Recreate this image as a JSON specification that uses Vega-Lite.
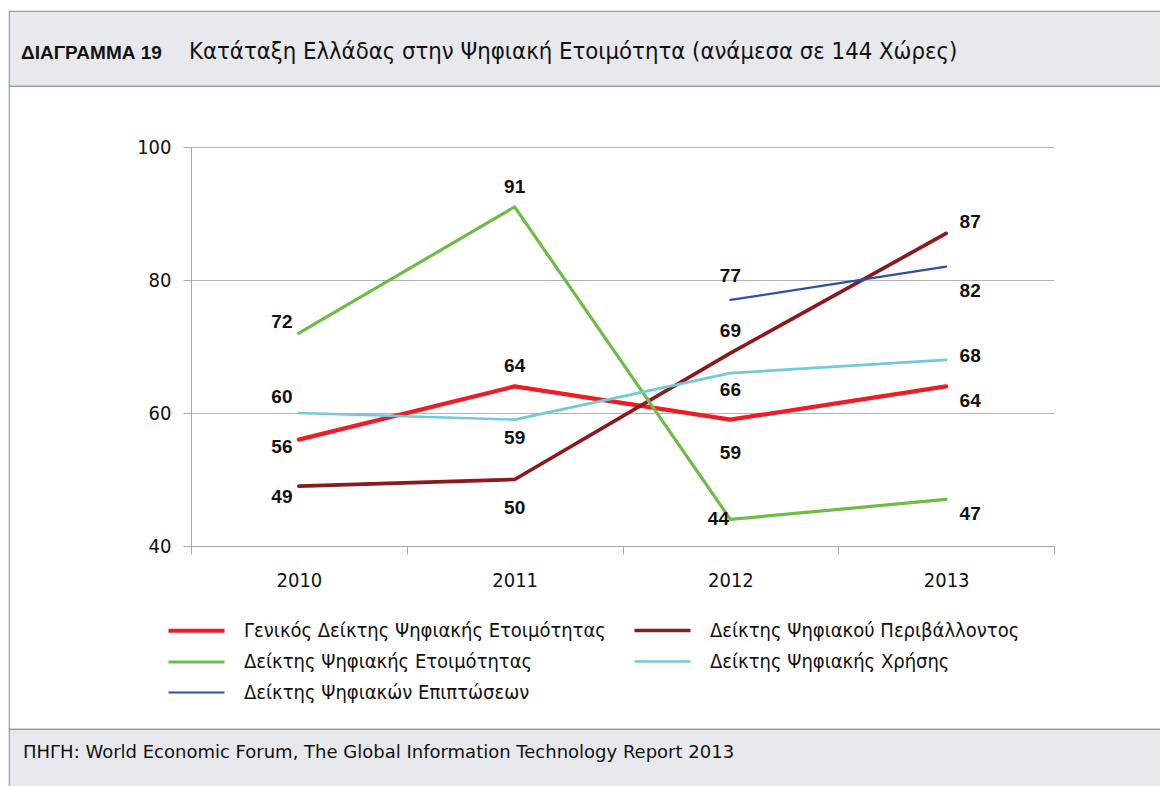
{
  "$schema": "https://vega.github.io/schema/vega-lite/v6.json",
  "padding": {"left": 8, "top": 10, "right": 0, "bottom": 0},
  "background": "white",
  "bounds": "flush",
  "spacing": 0,
  "config": {
    "view": {"stroke": "#8e9bb5"},
    "font": "DejaVu Sans Condensed"
  },
  "vconcat": [
    {
      "width": 1152,
      "height": 75,
      "view": {"fill": "#e8e9ed", "stroke": "#8e9bb5", "strokeWidth": 1.2},
      "data": {"values": [{"part": "ΔΙΑΓΡΑΜΜΑ 19"}, {"part": "Κατάταξη Ελλάδας στην Ψηφιακή Ετοιμότητα (ανάμεσα σε 144 Χώρες)"}]},
      "encoding": {
        "x": {
          "field": "part",
          "type": "nominal",
          "scale": {"type": "point", "domain": ["ΔΙΑΓΡΑΜΜΑ 19", "Κατάταξη Ελλάδας στην Ψηφιακή Ετοιμότητα (ανάμεσα σε 144 Χώρες)"], "range": [12, 180], "padding": 0},
          "axis": null
        },
        "text": {"field": "part"}
      },
      "layer": [
        {
          "transform": [{"filter": "datum.part === 'ΔΙΑΓΡΑΜΜΑ 19'"}],
          "mark": {"type": "text", "align": "left", "baseline": "alphabetic", "dy": 10, "font": "Liberation Sans", "fontWeight": "bold", "fontSize": 19, "color": "#111111"}
        },
        {
          "transform": [{"filter": "datum.part !== 'ΔΙΑΓΡΑΜΜΑ 19'"}],
          "mark": {"type": "text", "align": "left", "baseline": "alphabetic", "dy": 10, "font": "DejaVu Sans Condensed", "fontSize": 23.7, "color": "#111111"}
        }
      ]
    },
    {
      "width": 1152,
      "height": 643,
      "view": {"fill": "white", "stroke": "#8e9bb5", "strokeWidth": 1.2},
      "data": {
        "values": [
          {"series": "Γενικός Δείκτης Ψηφιακής Ετοιμότητας", "year": "2010", "value": 56},
          {"series": "Γενικός Δείκτης Ψηφιακής Ετοιμότητας", "year": "2011", "value": 64},
          {"series": "Γενικός Δείκτης Ψηφιακής Ετοιμότητας", "year": "2012", "value": 59},
          {"series": "Γενικός Δείκτης Ψηφιακής Ετοιμότητας", "year": "2013", "value": 64},
          {"series": "Δείκτης Ψηφιακού Περιβάλλοντος", "year": "2010", "value": 49},
          {"series": "Δείκτης Ψηφιακού Περιβάλλοντος", "year": "2011", "value": 50},
          {"series": "Δείκτης Ψηφιακού Περιβάλλοντος", "year": "2012", "value": 69},
          {"series": "Δείκτης Ψηφιακού Περιβάλλοντος", "year": "2013", "value": 87},
          {"series": "Δείκτης Ψηφιακής Ετοιμότητας", "year": "2010", "value": 72},
          {"series": "Δείκτης Ψηφιακής Ετοιμότητας", "year": "2011", "value": 91},
          {"series": "Δείκτης Ψηφιακής Ετοιμότητας", "year": "2012", "value": 44},
          {"series": "Δείκτης Ψηφιακής Ετοιμότητας", "year": "2013", "value": 47},
          {"series": "Δείκτης Ψηφιακής Χρήσης", "year": "2010", "value": 60},
          {"series": "Δείκτης Ψηφιακής Χρήσης", "year": "2011", "value": 59},
          {"series": "Δείκτης Ψηφιακής Χρήσης", "year": "2012", "value": 66},
          {"series": "Δείκτης Ψηφιακής Χρήσης", "year": "2013", "value": 68},
          {"series": "Δείκτης Ψηφιακών Επιπτώσεων", "year": "2012", "value": 77},
          {"series": "Δείκτης Ψηφιακών Επιπτώσεων", "year": "2013", "value": 82}
        ]
      },
      "encoding": {
        "x": {
          "field": "year",
          "type": "ordinal",
          "scale": {"type": "band", "domain": ["2010", "2011", "2012", "2013"], "range": [182, 1045], "paddingInner": 0, "paddingOuter": 0},
          "axis": {
            "orient": "bottom",
            "offset": -183,
            "title": null,
            "labelAngle": 0,
            "labelFont": "DejaVu Sans Condensed",
            "labelFontSize": 20,
            "labelColor": "#111111",
            "labelPadding": 16,
            "domainColor": "#a8a8a8",
            "tickColor": "#a8a8a8",
            "tickSize": 8,
            "tickBand": "extent",
            "grid": false
          }
        },
        "y": {
          "field": "value",
          "type": "quantitative",
          "scale": {"domain": [40, 100], "range": [460, 61], "nice": false, "zero": false},
          "axis": {
            "orient": "left",
            "offset": -182,
            "title": null,
            "values": [40, 60, 80, 100],
            "labelFont": "DejaVu Sans Condensed",
            "labelFontSize": 20,
            "labelColor": "#111111",
            "labelPadding": 12,
            "domainColor": "#a8a8a8",
            "tickColor": "#a8a8a8",
            "tickSize": 8,
            "grid": true,
            "gridColor": "#b3b3b3",
            "gridWidth": 1.2
          }
        }
      },
      "layer": [
        {
          "mark": {"type": "line", "strokeJoin": "round", "strokeCap": "round"},
          "encoding": {
            "color": {
              "field": "series",
              "type": "nominal",
              "scale": {
                "domain": ["Γενικός Δείκτης Ψηφιακής Ετοιμότητας", "Δείκτης Ψηφιακού Περιβάλλοντος", "Δείκτης Ψηφιακής Ετοιμότητας", "Δείκτης Ψηφιακής Χρήσης", "Δείκτης Ψηφιακών Επιπτώσεων"],
                "range": ["#ee1c25", "#8b1a1e", "#6dbd45", "#72cad8", "#2f4fa2"]
              },
              "legend": {
                "orient": "none",
                "legendX": 171,
                "legendY": 603,
                "columns": 2,
                "direction": "horizontal",
                "title": null,
                "symbolType": "M-2,0H2",
                "symbolSize": 784,
                "labelFont": "DejaVu Sans Condensed",
                "labelFontSize": 20,
                "labelColor": "#111111",
                "labelOffset": 31,
                "labelLimit": 700,
                "columnPadding": 21,
                "rowPadding": 5,
                "padding": 0
              }
            },
            "strokeWidth": {
              "field": "series",
              "type": "nominal",
              "scale": {
                "domain": ["Γενικός Δείκτης Ψηφιακής Ετοιμότητας", "Δείκτης Ψηφιακού Περιβάλλοντος", "Δείκτης Ψηφιακής Ετοιμότητας", "Δείκτης Ψηφιακής Χρήσης", "Δείκτης Ψηφιακών Επιπτώσεων"],
                "range": [4.2, 2.2, 2.3, 2.3, 2.3]
              },
              "legend": {
                "orient": "none",
                "legendX": 171,
                "legendY": 603,
                "columns": 2,
                "direction": "horizontal",
                "title": null,
                "symbolType": "M-2,0H2",
                "symbolSize": 784,
                "labelFont": "DejaVu Sans Condensed",
                "labelFontSize": 20,
                "labelColor": "#111111",
                "labelOffset": 31,
                "labelLimit": 700,
                "columnPadding": 21,
                "rowPadding": 5,
                "padding": 0
              }
            }
          }
        },
        {
          "mark": {
            "type": "text",
            "font": "Liberation Sans",
            "fontWeight": "bold",
            "fontSize": 19,
            "color": "#111111",
            "dx": {"expr": "datum.year === '2010' ? -17 : datum.year === '2013' ? 24 : (datum.value === 44 ? -12 : 0)"},
            "dy": {"expr": "[-11,-16,7,11,-20,-20,18,28,-24,-22,17,33,0,-11,24,-4,15,15][indexof(['2010-72','2010-60','2010-56','2010-49','2011-91','2011-64','2011-59','2011-50','2012-77','2012-69','2012-66','2012-59','2012-44','2013-87','2013-82','2013-68','2013-64','2013-47'], datum.year + '-' + datum.value)]"}
          },
          "encoding": {
            "text": {"field": "value", "type": "quantitative"}
          }
        }
      ]
    },
    {
      "width": 1152,
      "height": 62,
      "view": {"fill": "#e8e9ed", "stroke": "#8e9bb5", "strokeWidth": 1.2},
      "data": {"values": [{}]},
      "mark": {"type": "text", "text": ""},
      "title": {
        "text": "ΠΗΓΗ: World Economic Forum, The Global Information Technology Report 2013",
        "anchor": "start",
        "frame": "group",
        "orient": "top",
        "offset": -33,
        "dx": 14,
        "font": "DejaVu Sans",
        "fontWeight": "normal",
        "fontSize": 18,
        "color": "#111111"
      }
    }
  ]
}
